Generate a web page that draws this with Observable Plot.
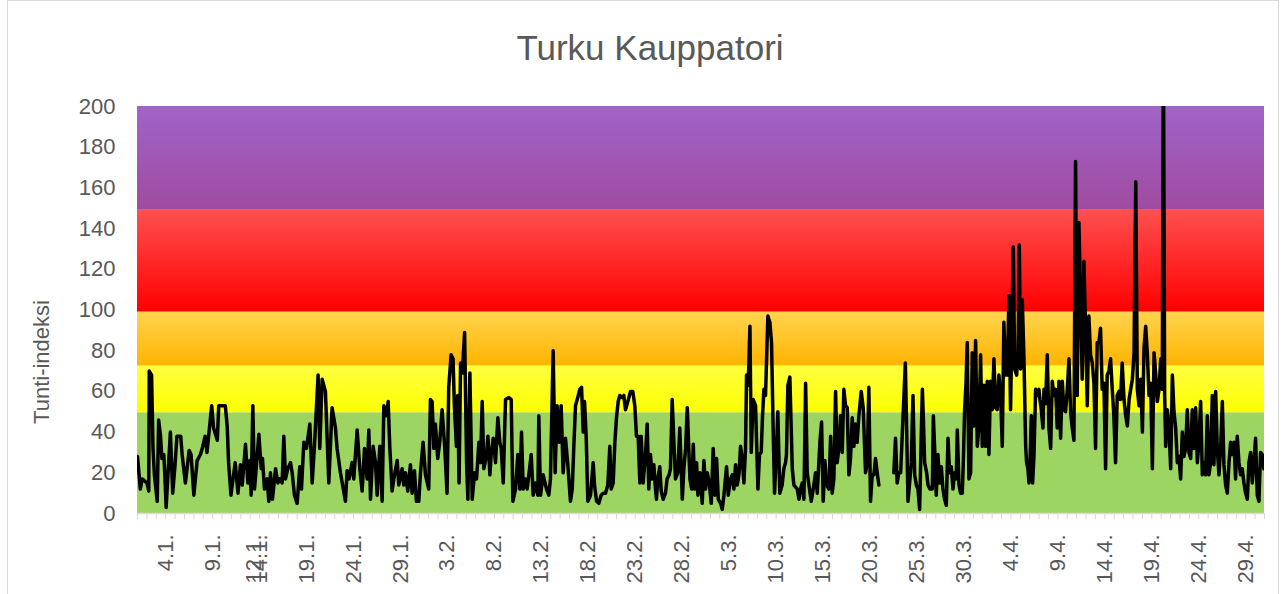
<!DOCTYPE html>
<html><head><meta charset="utf-8">
<script src="https://cdn.jsdelivr.net/npm/d3@7"></script>
<script src="https://cdn.jsdelivr.net/npm/@observablehq/plot@0.6"></script>
<style>
body{margin:0;background:#fff;font-family:Arial,"Liberation Sans",sans-serif;}
#wrap{position:relative;width:1283px;height:594px;overflow:hidden;background:#fff}
#frame{position:absolute;left:7px;top:0px;width:1272px;height:620px;border:1px solid #d9d9d9;box-sizing:border-box}
#title{position:absolute;top:28px;left:0;width:1300px;text-align:center;font-size:35px;color:#595959;white-space:nowrap}
#ylab{position:absolute;left:42px;top:362px;transform:translate(-50%,-50%) rotate(-90deg);font-size:22px;color:#595959;white-space:nowrap}
#chart svg{position:absolute;left:0;top:0}
</style></head><body>
<div id="wrap"><div id="frame"></div><div id="chart"></div><div id="title">Turku Kauppatori</div><div id="ylab">Tunti-indeksi</div></div>
<script>
// Days since 1.1. (hourly index readings)
const days = [
0,0.3,0.5,1,1.2,1.25,1.5,1.65,1.8,2.1,2.25,2.45,2.6,2.8,2.9,3.05,3.5,3.75,4.0,4.2,4.6,4.75,5.1,5.5,5.7,6.0,6.35,6.7,6.9,7.2,7.4,7.9,8.1,8.5,8.65,9.35,9.55,9.7,9.95,10.4,10.7,10.96,
11.15,11.5,11.75,11.96,12.1,12.28,12.46,12.74,12.92,13.17,13.31,13.52,13.81,13.98,14.16,14.37,14.7,14.94,15.15,15.4,15.58,15.76,16.0,16.29,16.47,16.71,17.0,17.28,17.46,17.71,17.99,18.35,18.6,18.84,19.23,19.41,19.66,20.01,20.37,20.72,21.08,21.25,21.61,22.14,22.32,22.53,22.85,
23.03,23.39,23.67,23.92,24.17,24.45,24.63,24.81,25.09,25.34,25.52,25.8,26.05,26.23,26.51,26.69,26.86,27.11,27.29,27.65,27.82,28.18,28.35,28.53,28.78,29.06,29.24,29.49,29.7,29.95,30.13,30.41,30.66,31.01,31.19,31.37,31.55,31.72,31.97,32.18,32.43,32.72,32.96,33.14,33.39,33.6,33.74,33.96,34.1,34.24,
34.4,34.58,34.83,35.04,35.18,35.39,35.64,35.89,36.1,36.35,36.53,36.7,36.88,37.17,37.31,37.52,37.66,37.88,38.12,38.37,38.58,38.73,38.94,39.19,39.54,39.79,39.97,40.25,40.5,40.71,40.89,41.07,41.31,41.49,41.67,41.92,42.13,42.38,42.63,42.73,42.91,43.19,43.55,43.8,43.97,44.26,44.47,44.68,44.9,45.11,45.32,45.57,45.82,46.1,
46.29,46.46,46.64,46.82,47.1,47.28,47.46,47.6,47.78,47.95,48.24,48.52,48.66,48.88,49.12,49.37,49.59,49.83,50.08,50.29,50.44,50.65,50.83,51.0,51.18,51.36,51.61,51.78,51.96,52.21,52.49,52.74,52.95,53.13,53.31,53.49,53.63,53.84,54.09,54.27,54.44,54.62,54.8,54.98,55.15,55.26,55.4,55.61,55.76,55.97,56.22,56.39,56.61,56.75,56.93,57.1,57.28,57.53,57.74,
58.01,58.18,58.36,58.54,58.72,58.82,59.0,59.18,59.32,59.53,59.67,59.89,60.13,60.31,60.49,60.67,60.88,61.09,61.3,61.48,61.66,61.84,62.09,62.26,62.44,62.72,62.9,63.15,63.33,63.5,63.68,63.86,64.04,64.21,64.39,64.57,64.74,64.85,65.03,65.21,65.35,65.56,65.81,66.06,66.23,66.41,66.55,66.7,66.87,67.12,67.33,67.51,67.69,67.83,68.04,68.18,68.39,68.64,68.82,69.0,69.1,69.25,69.46,
69.72,69.89,70.07,70.25,70.43,70.6,70.78,70.96,71.14,71.31,71.49,71.74,71.95,72.2,72.38,72.66,72.84,73.01,73.19,73.37,73.62,73.8,73.97,74.15,74.33,74.5,74.68,74.86,75.04,75.21,75.39,75.57,75.75,75.92,76.1,76.28,76.45,76.63,76.81,77.06,77.27,77.52,77.7,77.87,78.05,78.23,78.41,78.58,78.76,78.94,79.7,80.53,80.71,80.89,81.06,
81.26,81.44,81.61,81.76,81.9,82.04,82.25,82.39,82.57,82.75,82.93,83.1,83.28,83.46,83.57,83.67,83.81,84.03,84.17,84.38,84.63,84.74,84.88,85.05,85.23,85.41,85.59,85.76,85.94,86.12,86.3,86.47,86.65,86.83,87.0,87.18,87.29,87.47,87.64,87.82,87.93,88.07,88.21,88.35,88.53,88.71,88.88,89.06,89.24,89.42,89.59,89.77,89.95,90.13,90.3,90.48,90.66,90.83,91.01,91.19,91.37,91.54,91.72,91.9,92.08,92.25,92.43,92.61,92.79,92.96,
93.25,93.4,93.61,93.75,93.89,94.03,94.21,94.39,94.57,94.67,94.81,94.92,95.03,95.17,95.31,95.45,95.63,95.81,95.98,96.09,96.23,96.41,96.52,96.69,96.87,97.05,97.23,97.4,97.58,97.76,97.93,98.11,98.29,98.47,98.64,98.82,99.0,99.18,99.35,99.53,99.71,99.88,100.06,100.24,100.42,100.59,100.77,100.95,101.13,101.3,101.48,101.66,101.84,102.01,102.19,102.37,102.54,102.72,102.9,103.08,103.25,103.43,103.61,103.79,103.96,104.14,104.32,104.5,104.67,104.85,
105.04,105.22,105.4,105.58,105.75,105.93,106.11,106.29,106.46,106.64,106.82,107.0,107.17,107.35,107.53,107.7,107.88,108.06,108.24,108.41,108.59,108.77,108.95,109.12,109.23,109.37,109.48,109.65,109.83,110.01,110.19,110.36,110.54,110.72,110.9,111.07,111.25,111.43,111.6,111.78,111.96,112.14,112.31,112.49,112.67,112.85,113.02,113.2,113.38,113.56,113.73,113.91,114.09,114.26,114.44,114.62,114.8,114.97,115.15,115.33,115.51,115.68,115.86,116.04,116.22,116.39,116.57,116.75,116.92,117.1,117.28,117.46,117.63,117.81,117.99,118.17,118.34,118.52,118.7,118.87,119.05,119.23,119.41,119.58,119.76,119.94
];
const tunti = [
28,12,17,15,11,70,68,32,19,6,46,38,27,29,20,3,40,10,24,38,38,29,15,31,29,9,26,29,32,38,30,53,42,36,53,53,43,25,9,25,10,24,
14,34,15,26,9,53,12,28,39,22,27,12,17,6,20,7,22,15,17,15,38,17,22,25,20,9,5,23,12,35,32,44,15,33,68,32,66,60,15,52,42,32,20,6,21,17,25,
17,41,22,11,32,17,41,7,33,25,9,33,6,53,48,55,33,11,17,26,14,22,14,20,11,24,10,21,6,6,20,35,19,12,56,55,32,44,27,35,51,32,10,62,78,76,53,33,58,15,
74,69,89,25,7,69,7,20,17,35,25,55,22,29,38,19,29,37,25,47,35,32,15,56,57,56,6,12,29,12,40,12,17,12,19,29,9,15,9,48,9,19,12,9,17,80,20,53,35,53,20,37,24,6,
12,33,53,56,61,62,40,55,37,6,9,25,14,6,5,9,10,10,14,33,12,15,35,47,55,58,57,58,51,55,60,60,53,38,38,15,38,15,29,44,12,29,17,24,12,7,17,23,11,7,10,17,19,22,56,37,17,20,42,
7,22,32,52,29,17,12,34,12,25,9,20,5,26,12,20,15,5,32,9,27,7,5,2,9,23,9,17,19,12,24,14,19,33,27,15,32,68,63,92,30,56,53,12,29,30,48,61,58,97,94,84,40,10,32,50,10,14,22,25,29,63,67,
22,14,13,12,7,12,15,7,64,20,14,6,12,20,10,35,45,6,26,14,12,38,10,17,60,25,32,48,30,61,53,52,19,27,47,33,44,35,48,60,52,20,25,62,6,19,19,27,20,14,null,20,37,15,20,
20,40,58,74,41,6,17,25,58,19,14,12,2,40,61,48,25,20,14,12,12,48,32,9,29,15,23,12,7,4,37,20,23,12,20,17,41,14,10,10,25,51,63,84,17,20,79,43,85,33,43,78,33,63,33,65,29,65,51,76,52,51,68,58,33,94,68,68,107,51,
131,71,68,78,132,71,105,76,33,25,22,15,25,48,15,28,61,58,61,56,51,42,61,54,78,42,32,65,58,61,42,65,37,65,51,50,61,76,50,42,36,173,58,143,104,66,124,91,53,97,78,74,64,32,84,84,91,61,64,22,68,70,76,61,48,25,58,60,56,74,
56,48,43,56,61,66,79,163,61,53,66,40,81,92,78,58,64,22,79,69,55,61,76,61,240,58,33,51,42,22,68,50,42,25,28,17,40,28,32,51,30,27,51,32,52,25,35,55,19,25,19,48,19,25,58,24,60,32,19,32,55,24,14,10,25,35,29,35,17,38,25,19,22,15,10,7,25,30,15,25,37,9,6,30,29,22
];
const tickLabels = ["4.1.","9.1.","14.1.","19.1.","24.1.","29.1.","3.2.","8.2.","13.2.","18.2.","23.2.","28.2.","5.3.","10.3.","15.3.","20.3.","25.3.","30.3.","4.4.","9.4.","14.4.","19.4.","24.4.","29.4."];
const extraLabel = "12.1.";
const yTicks = [0,20,40,60,80,100,120,140,160,180,200];
const bandLow  = [0, 49.5, 72.5, 99, 149];
const bandHigh = [49.5, 72.5, 99, 149, 200];
const bandTop    = ["#9dd562", "#ffff40", "#ffd44e", "#ff5050", "#a064c8"];
const bandBottom = ["#9dd562", "#fbff00", "#ffb400", "#ff0000", "#a04ba0"];

const YEAR = 2021;
const base = Date.UTC(YEAR, 0, 1);
const toDate = d => new Date(base + d * 864e5);
const parseLabel = s => { const [dd, mm] = s.split("."); return new Date(Date.UTC(YEAR, +mm - 1, +dd)); };

const series = days.map((d, i) => ({t: toDate(d), v: tunti[i]}));
const bands = bandLow.map((lo, i) => ({lo, hi: bandHigh[i], i}));
const tickDates = tickLabels.map(parseLabel);
const labelByTime = new Map(tickDates.map((d, i) => [+d, tickLabels[i]]));
const xStart = toDate(0), xEnd = toDate(120);
const dayTicks = d3.utcDay.range(xStart, new Date(+xEnd + 1));

const defsMark = () => {
  const ns = "http://www.w3.org/2000/svg";
  const defs = document.createElementNS(ns, "defs");
  bands.forEach(b => {
    const g = document.createElementNS(ns, "linearGradient");
    g.setAttribute("id", "band" + b.i);
    g.setAttribute("x1", "0"); g.setAttribute("y1", "0");
    g.setAttribute("x2", "0"); g.setAttribute("y2", "1");
    [[0, bandTop[b.i]], [1, bandBottom[b.i]]].forEach(([o, c]) => {
      const s = document.createElementNS(ns, "stop");
      s.setAttribute("offset", o); s.setAttribute("stop-color", c);
      g.appendChild(s);
    });
    defs.appendChild(g);
  });
  return defs;
};

const chart = Plot.plot({
  width: 1283, height: 594,
  marginTop: 106, marginBottom: 81, marginLeft: 137, marginRight: 19,
  style: {fontFamily: "Arial, 'Liberation Sans', sans-serif", fontSize: "22px", color: "#595959", background: "transparent", overflow: "visible"},
  x: {type: "utc", domain: [xStart, xEnd]},
  y: {domain: [0, 200]},
  marks: [
    defsMark,
    ...bands.map(b => Plot.rect([b], {y1: "lo", y2: "hi", fill: `url(#band${b.i})`})),
    Plot.axisY({ticks: yTicks, tickSize: 0, tickPadding: 22, label: null, fill: "#595959"}),
    Plot.axisX({ticks: dayTicks, tickSize: 6, tickFormat: () => "", stroke: "#d9d9d9", label: null}),
    Plot.axisX({ticks: tickDates, tickSize: 0, tickPadding: 21, tickRotate: -90, tickFormat: d => labelByTime.get(+d), label: null, fill: "#595959"}),
    Plot.axisX({ticks: [parseLabel("14.1.")], tickSize: 0, tickPadding: 21, tickRotate: -90, tickFormat: () => extraLabel, label: null, fill: "#595959", dx: -6}),
    Plot.ruleY([0], {stroke: "#d9d9d9", strokeWidth: 1.5}),
    Plot.line(series, {x: "t", y: "v", stroke: "#000", strokeWidth: 3.5, strokeLinejoin: "round", clip: true})
  ]
});
document.getElementById("chart").appendChild(chart);
</script>
</body></html>
